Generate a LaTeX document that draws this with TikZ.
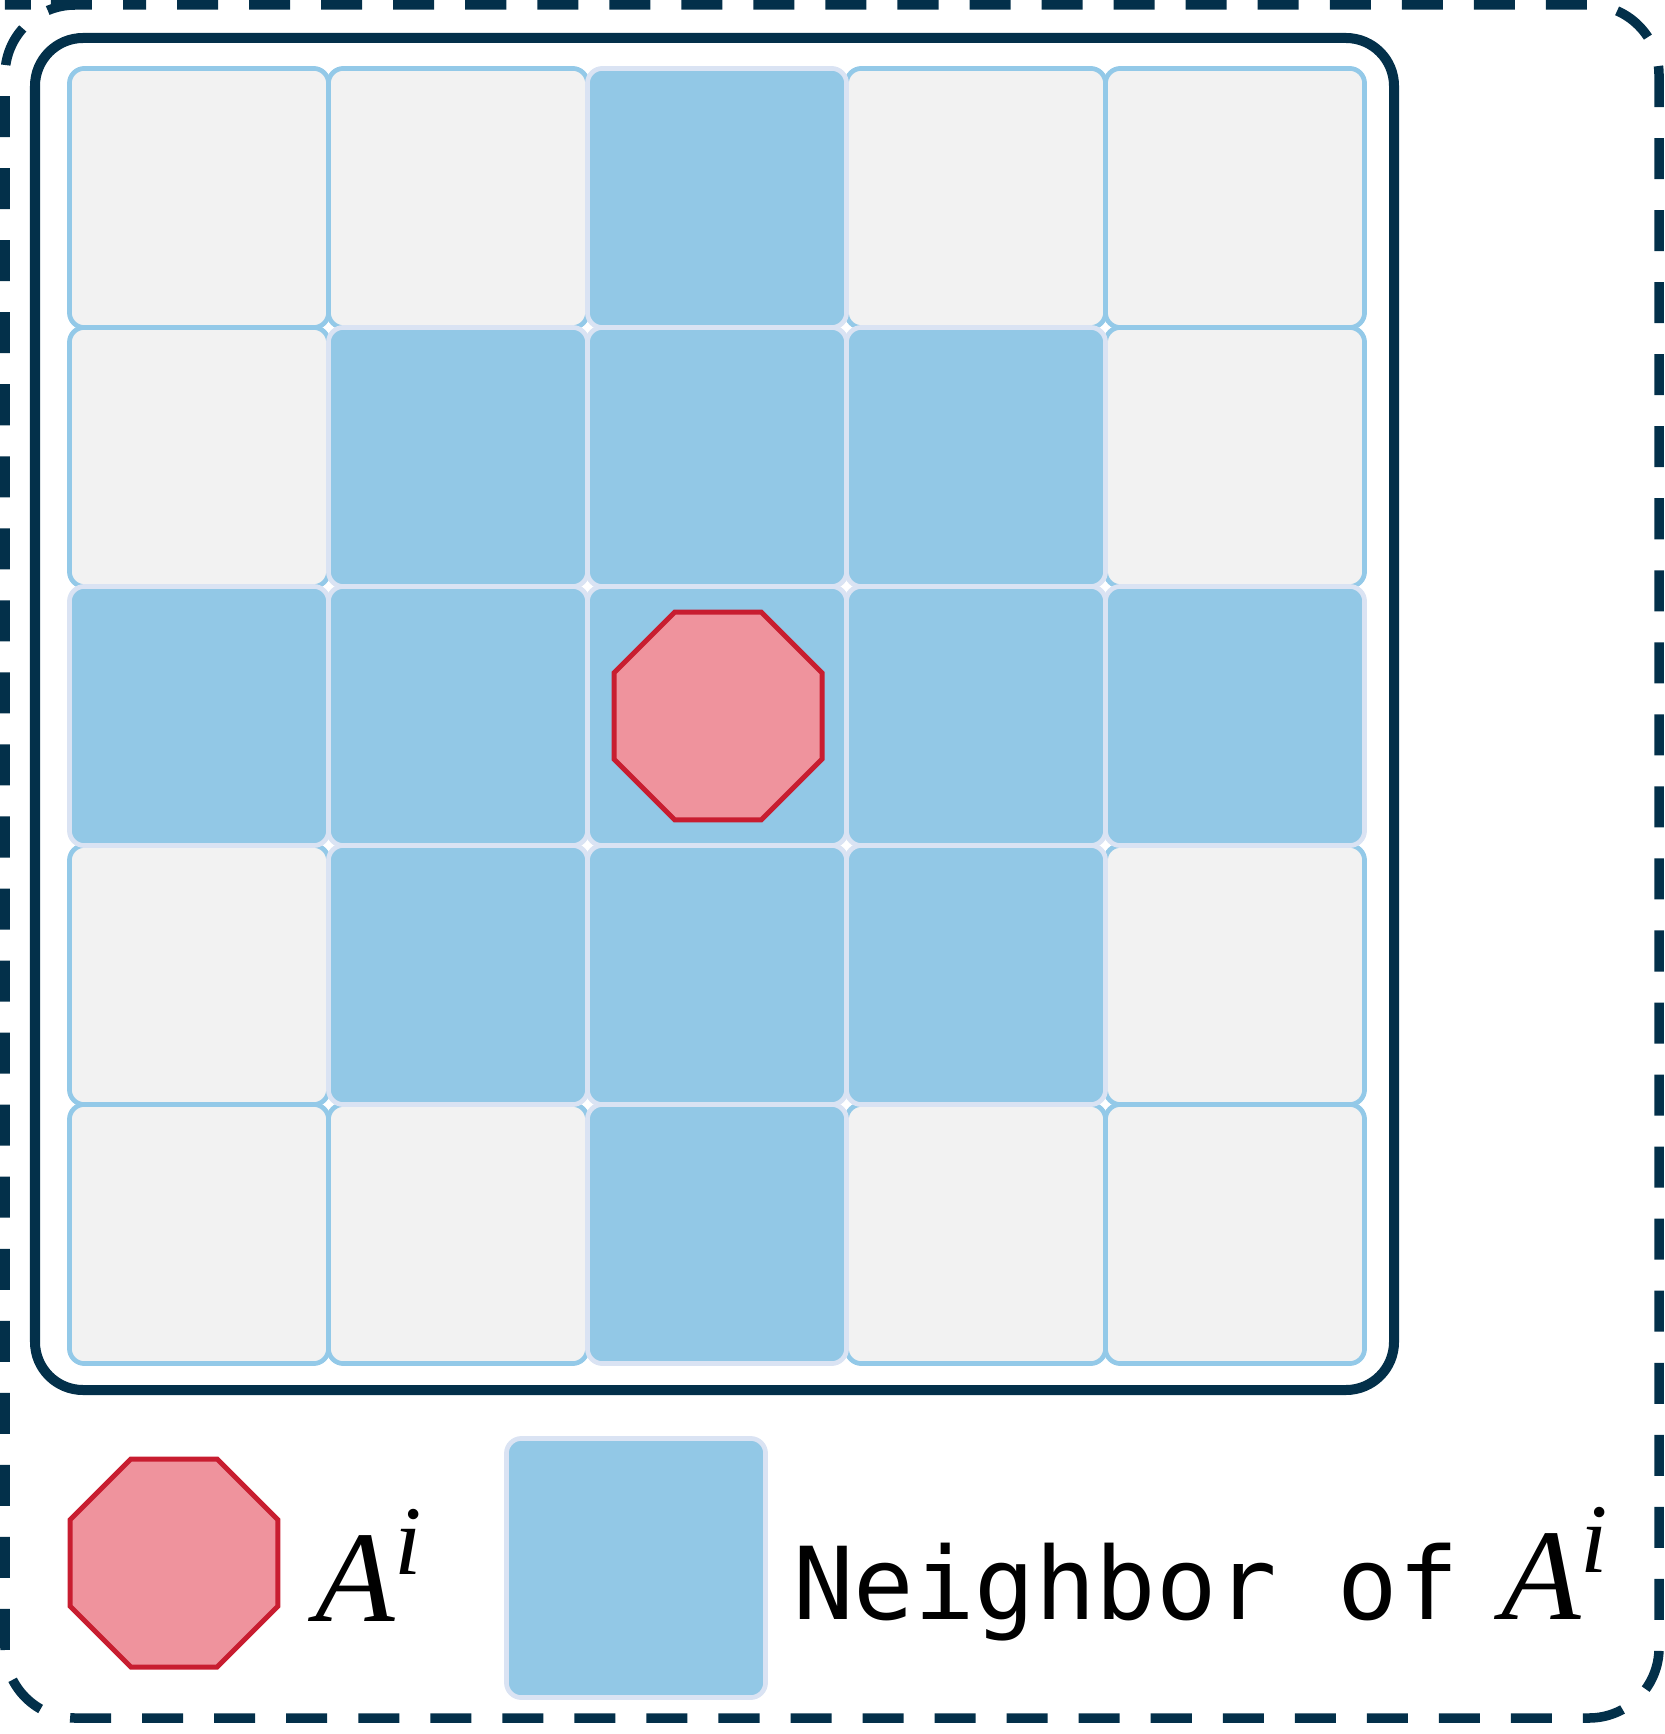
\documentclass[tikz,border=0pt]{standalone}
\usepackage{fontspec}
\usetikzlibrary{shapes.geometric}
\newfontfamily\monofont{DejaVu Sans Mono}
\newfontfamily\serifit{Liberation Serif}
\definecolor{navy}{HTML}{03304A}
\definecolor{cellgray}{HTML}{F2F2F2}
\definecolor{cellline}{HTML}{93C9E8}
\definecolor{nbfill}{HTML}{92C8E6}
\definecolor{nbline}{HTML}{DAE3F3}
\definecolor{agfill}{HTML}{EF939D}
\definecolor{agline}{HTML}{C81D30}
\tikzset{
  cellbox/.style={draw=cellline, fill=cellgray, line width=0.047cm, rounded corners=0.15cm,
    minimum width=2.59cm, minimum height=2.59cm, inner sep=0pt, outer sep=0pt},
  nbbox/.style={cellbox, draw=nbline, fill=nbfill},
  agent/.style={regular polygon, regular polygon sides=8, draw=agline, fill=agfill,
    line width=0.05cm, minimum size=2.25cm, inner sep=0pt, outer sep=0pt},
  frame/.style={draw=navy, line width=0.1cm, rounded corners=0.48cm},
  outerframe/.style={draw=navy, line width=0.095cm, rounded corners=0.7cm,
    dash pattern=on 0.41cm off 0.31cm, dash phase=0.40cm},
  lbl/.style={inner sep=0pt, outer sep=0pt, anchor=base west, text=black},
}
\newcommand{\agentsym}{{\fontsize{37}{40}\selectfont\serifit\itshape A\raisebox{0.46cm}{\fontsize{28}{30}\selectfont i}}}
\begin{document}
\begin{tikzpicture}[x=0.01cm, y=-0.01cm]
\useasboundingbox (0,0) rectangle (1664,1734);
% outer dashed frame
\draw[outerframe] (75,5) -- (1659,5) -- (1659,1718) -- (5,1718) -- (5,5) -- cycle;
% inner solid frame
\draw[frame] (35,38) rectangle (1394,1390);
% grey cells
\foreach \r/\c in {0/0,0/1,0/3,0/4,1/0,1/4,3/0,3/4,4/0,4/1,4/3,4/4}{
  \node[cellbox] (cell-\r-\c) at ({199+259*\c},{198+259*\r}) {};
}
% neighbour cells
\foreach \r/\c in {0/2,1/1,1/2,1/3,2/0,2/1,2/2,2/3,2/4,3/1,3/2,3/3,4/2}{
  \node[nbbox] (cell-\r-\c) at ({199+259*\c},{198+259*\r}) {};
}
% agent
\node[agent] (ai) at (718,716) {};
% legend
\node[agent] (legag) at (174,1563) {};
\node[lbl] (legagtext) at (315,1621) {\agentsym};
\node[nbbox] (legnb) at (636,1568) {};
\node[lbl] (legnbtext) at (793,1619) {\fontsize{28.6}{32}\selectfont\monofont Neighbor of\hspace{0.42cm}\agentsym};
\end{tikzpicture}
\end{document}
